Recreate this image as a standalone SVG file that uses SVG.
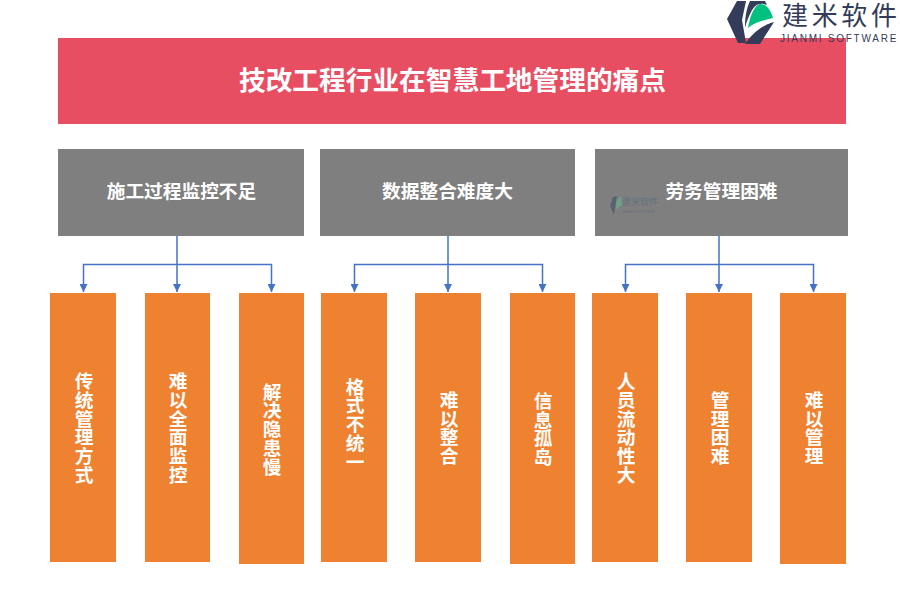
<svg xmlns="http://www.w3.org/2000/svg" width="900" height="600" viewBox="0 0 900 600">
<style>
text{font-family:"Noto Sans CJK SC","Liberation Sans",sans-serif}
.t{fill:#fff;font-weight:700;text-anchor:middle}
.h{font-size:18.7px}
.o{fill:#ef8230}.g{fill:#7f7f7f}
.v{font-size:18.7px;writing-mode:vertical-rl;text-orientation:upright}
.c{fill:none;stroke:#4472c4;stroke-width:1.5}
</style>
<defs>
<marker id="a" markerUnits="userSpaceOnUse" markerWidth="8" markerHeight="8" refX="4" refY="8" orient="0" viewBox="0 0 8 8"><path d="M0 0H8L4 8Z" fill="#4472c4"/></marker>
</defs>
<g id="title"><rect x="58" y="38" width="788" height="86" fill="#e84e62"/><text class="t" x="452.500" y="90" font-size="26.700">技改工程行业在智慧工地管理的痛点</text></g>
<g id="logo">
<path d="M737 1H746L742 20L746 43H738L727 19Z" fill="#333c58"/>
<path d="M748 28C750 15 755 5 760 4C766 4 770 8 773 18C765 20 755 22 748 28Z" fill="#00c07f"/>
<path d="M750 1H765L767 5C760 2 755 4 751 12C748 18 746 23 745 28C745 18 746 10 750 1Z" fill="#333c58"/>
<path d="M774 22L760 44H745C752 34 760 26 774 22Z" fill="#333c58"/>
<text x="782" y="25" font-size="26" fill="#333c58" textLength="115">建米软件</text>
<text x="780" y="42" font-size="10" letter-spacing="1.75" fill="#333c58" style="font-family:'Liberation Sans',sans-serif">JIANMI SOFTWARE</text>
</g>
<g id="connectors">
<path class="c" d="M177 236V292" marker-end="url(#a)"/><path class="c" d="M177 264.500H83.500V292" marker-end="url(#a)"/><path class="c" d="M177 264.500H271.500V292" marker-end="url(#a)"/>
<path class="c" d="M448 236V292" marker-end="url(#a)"/><path class="c" d="M448 264.500H354.500V292" marker-end="url(#a)"/><path class="c" d="M448 264.500H542.500V292" marker-end="url(#a)"/>
<path class="c" d="M719 236V292" marker-end="url(#a)"/><path class="c" d="M719 264.500H625.500V292" marker-end="url(#a)"/><path class="c" d="M719 264.500H813.500V292" marker-end="url(#a)"/>
</g>
<g id="h1"><rect class="g" x="58" y="149" width="246" height="87"/><text class="t h" x="181.500" y="198">施工过程监控不足</text></g>
<g id="h2"><rect class="g" x="320" y="149" width="255" height="87"/><text class="t h" x="447.500" y="198">数据整合难度大</text></g>
<g id="h3"><rect class="g" x="595" y="149" width="253" height="87"/>
<path d="M613 197L617 196L614 215L610 206Z" fill="#59636f"/><path d="M616 204C617 199 619 197 621 197L622 205C620 206 618 207 616 210Z" fill="#6fa08c"/>
<text x="622" y="205" font-size="9" fill="#69707c">建米软件</text>
<text x="622" y="213" font-size="3.500" fill="#69707c" style="font-family:'Liberation Sans',sans-serif">JIANMI SOFTWARE</text>
<text class="t h" x="721.500" y="198">劳务管理困难</text></g>
<g id="n1"><rect class="o" x="50" y="293" width="66" height="269"/><text class="t v" x="84" y="428">传统管理方式</text></g>
<g id="n2"><rect class="o" x="145" y="293" width="65" height="269"/><text class="t v" x="178" y="428">难以全面监控</text></g>
<g id="n3"><rect class="o" x="239" y="293" width="65" height="271"/><text class="t v" x="272" y="429">解决隐患慢</text></g>
<g id="n4"><rect class="o" x="321" y="293" width="66" height="269"/><text class="t v" x="355" y="424">格式不统一</text></g>
<g id="n5"><rect class="o" x="415" y="293" width="66" height="269"/><text class="t v" x="449" y="428">难以整合</text></g>
<g id="n6"><rect class="o" x="510" y="293" width="65" height="271"/><text class="t v" x="543" y="429">信息孤岛</text></g>
<g id="n7"><rect class="o" x="592" y="293" width="66" height="269"/><text class="t v" x="626" y="428">人员流动性大</text></g>
<g id="n8"><rect class="o" x="686" y="293" width="66" height="269"/><text class="t v" x="720" y="428">管理困难</text></g>
<g id="n9"><rect class="o" x="780" y="293" width="66" height="271"/><text class="t v" x="814" y="428">难以管理</text></g>
</svg>
